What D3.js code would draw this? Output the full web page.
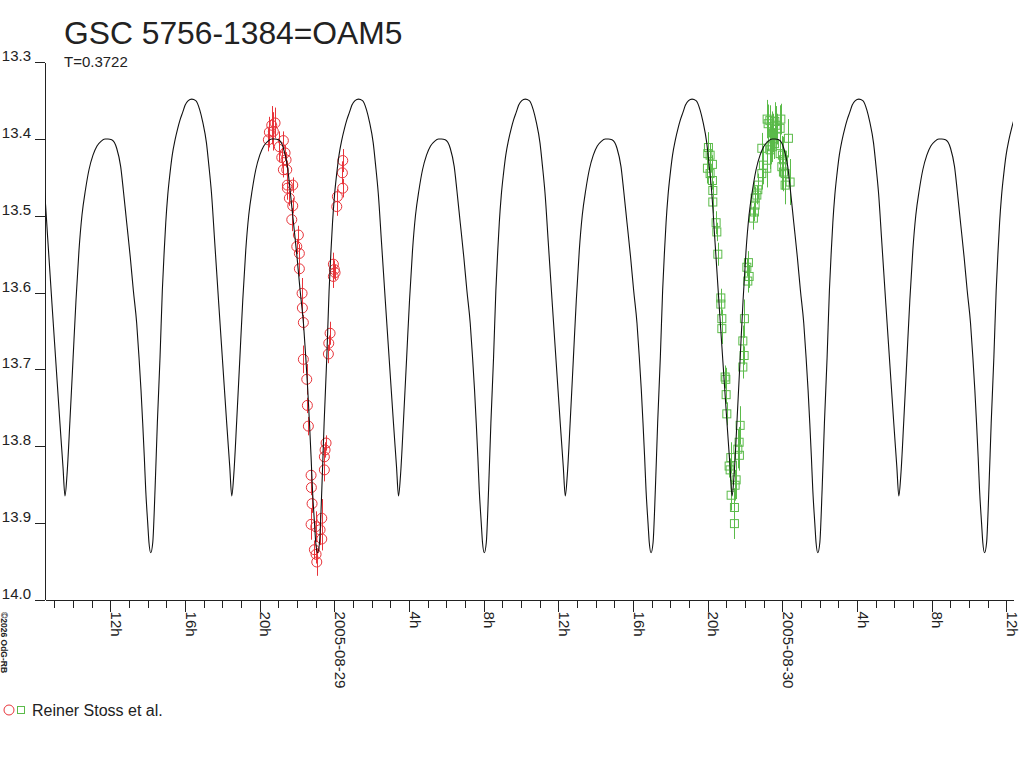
<!DOCTYPE html>
<html>
<head>
<meta charset="utf-8">
<script src="https://cdn.jsdelivr.net/npm/d3@7"></script>
<style>
  body { margin: 0; background: #fff; }
  svg { display: block; font-family: "Liberation Sans", Arial, sans-serif; }
  .axis path, .axis line { stroke: #222; shape-rendering: crispEdges; }
  .axis text { fill: #222; font-size: 15px; }
</style>
</head>
<body>
<div id="chart"></div>
<script>
// star + period shown on the chart
var starName = "GSC 5756-1384=OAM5";
var periodDays = 0.3722;
var observer = "Reiner Stoss et al.";
var yTicks = [13.3, 13.4, 13.5, 13.6, 13.7, 13.8, 13.9, 14.0];

// time in hours since 2005-08-28 00:00 UT
var xStartHours = 8.5, xEndHours = 60.35;

// model light curve: one period, hours after primary minimum
var epochHours = 14.164;
var profileHours = [0, 0.107, 0.230, 0.354, 0.498, 0.621, 0.723, 0.804, 0.911, 1.034, 1.152, 1.302, 1.446, 1.570, 1.714, 1.838, 2.009, 2.196,
  2.411, 2.625, 2.786, 2.984, 3.107, 3.252, 3.429, 3.643, 3.857, 4.071, 4.232, 4.339,
  4.446, 4.607, 4.768, 4.929, 5.089, 5.250, 5.437, 5.625, 5.839, 6.054, 6.268, 6.482, 6.643,
  6.841, 7.109, 7.323, 7.462, 7.645, 7.837, 8.000, 8.180, 8.303, 8.411, 8.502, 8.588, 8.663, 8.770, 8.839];
var profileMag = [13.939, 13.926, 13.857, 13.770, 13.684, 13.597, 13.545, 13.509, 13.473, 13.444, 13.421, 13.401, 13.386, 13.375, 13.365, 13.356, 13.350, 13.348,
  13.350, 13.362, 13.378, 13.405, 13.433, 13.470, 13.535, 13.615, 13.693, 13.771, 13.827, 13.865,
  13.838, 13.766, 13.688, 13.610, 13.545, 13.499, 13.466, 13.440, 13.421, 13.409, 13.403, 13.400, 13.400,
  13.401, 13.412, 13.436, 13.466, 13.509, 13.554, 13.597, 13.640, 13.684, 13.727, 13.770, 13.814, 13.857, 13.900, 13.926];

// first night (red circles)
var redHours = [20.646, 20.823, 20.518, 20.732, 20.464, 21.268, 21.054, 21.359, 21.182, 21.413, 21.268, 21.450, 21.482, 21.771, 21.482, 21.589,
  21.771, 21.718, 22.071, 21.986, 22.125, 22.125, 22.270, 22.286, 22.339, 22.339, 22.521, 22.554, 22.607, 22.752, 22.768, 22.805,
  22.752, 23.004, 23.325, 23.234, 23.325, 22.929, 23.020, 23.057, 23.555, 23.502, 23.464, 23.464, 23.679, 23.700, 23.770, 23.946,
  24.000, 23.946, 24.037, 24.129, 24.161, 24.450, 24.429, 24.450];
var redMag = [13.382, 13.379, 13.391, 13.390, 13.401, 13.402, 13.410, 13.418, 13.424, 13.427, 13.440, 13.440, 13.460, 13.460, 13.464, 13.477,
  13.487, 13.505, 13.525, 13.540, 13.549, 13.569, 13.601, 13.620, 13.639, 13.687, 13.713, 13.747, 13.774, 13.838, 13.854, 13.875,
  13.902, 13.905, 13.894, 13.909, 13.921, 13.935, 13.941, 13.951, 13.796, 13.805, 13.814, 13.831, 13.680, 13.666, 13.653, 13.563,
  13.570, 13.579, 13.574, 13.488, 13.475, 13.464, 13.444, 13.428];
var redErr = [0.025, 0.020, 0.020, 0.025, 0.015, 0.012, 0.020, 0.010, 0.012, 0.010, 0.010, 0.012, 0.015, 0.010, 0.015, 0.010,
  0.010, 0.015, 0.012, 0.010, 0.012, 0.010, 0.020, 0.010, 0.010, 0.018, 0.020, 0.010, 0.012, 0.012, 0.010, 0.012,
  0.020, 0.020, 0.025, 0.020, 0.015, 0.012, 0.012, 0.018, 0.010, 0.010, 0.012, 0.015, 0.012, 0.010, 0.015, 0.015,
  0.012, 0.015, 0.010, 0.012, 0.010, 0.012, 0.015, 0.015];

// second night (green squares)
var greenHours = [44.036, 44.003, 44.126, 44.250, 43.982, 44.126, 44.250, 44.271, 44.271, 44.448, 44.486, 44.539, 44.700, 44.700, 44.754, 44.754,
  44.930, 44.968, 44.984, 45.021, 45.236, 45.145, 45.198, 45.252, 45.429, 45.429, 45.520, 45.466, 45.696, 45.611, 45.680, 45.734,
  45.879, 45.948, 45.879, 45.964, 46.146, 46.216, 46.093, 46.179, 46.446, 46.500, 46.537, 46.537, 46.629, 46.682, 46.714, 46.896,
  46.982, 47.164, 46.896, 47.341, 47.464, 47.395, 47.571, 47.180, 47.234, 47.325, 47.593, 47.914, 47.877, 47.661, 47.432, 47.518,
  47.732, 48.321, 47.877, 48.000, 47.968, 48.054, 48.143, 48.411, 48.143, 48.054];
var greenMag = [13.411, 13.419, 13.421, 13.433, 13.438, 13.445, 13.454, 13.467, 13.482, 13.509, 13.521, 13.550, 13.607, 13.615, 13.634, 13.647,
  13.710, 13.713, 13.733, 13.758, 13.815, 13.826, 13.831, 13.864, 13.880, 13.901, 13.844, 13.851, 13.812, 13.804, 13.795, 13.773,
  13.697, 13.682, 13.663, 13.634, 13.585, 13.579, 13.567, 13.561, 13.503, 13.495, 13.486, 13.477, 13.473, 13.466, 13.460, 13.445,
  13.434, 13.438, 13.412, 13.414, 13.410, 13.408, 13.406, 13.374, 13.380, 13.376, 13.377, 13.374, 13.386, 13.382, 13.384, 13.392,
  13.387, 13.399, 13.419, 13.421, 13.436, 13.443, 13.445, 13.456, 13.460, 13.427];
var greenErr = [0.020, 0.015, 0.015, 0.012, 0.020, 0.015, 0.012, 0.012, 0.015, 0.015, 0.012, 0.015, 0.012, 0.015, 0.012, 0.020,
  0.015, 0.015, 0.012, 0.015, 0.020, 0.015, 0.015, 0.020, 0.025, 0.020, 0.025, 0.020, 0.020, 0.025, 0.020, 0.025,
  0.015, 0.012, 0.020, 0.025, 0.015, 0.015, 0.012, 0.015, 0.015, 0.012, 0.015, 0.015, 0.012, 0.012, 0.015, 0.020,
  0.025, 0.025, 0.020, 0.025, 0.020, 0.025, 0.020, 0.025, 0.025, 0.020, 0.025, 0.020, 0.030, 0.025, 0.020, 0.025,
  0.020, 0.025, 0.030, 0.025, 0.030, 0.025, 0.030, 0.030, 0.025, 0.030];

var RED = "#e8343a", GREEN = "#5bbb4a";

var margin = { top: 62.3, left: 45 },
    width = 1013 - margin.left,
    height = 599.6 - margin.top;

var baseMs = Date.UTC(2005, 7, 28, 0, 0);
var toDate = h => new Date(baseMs + h * 3600e3);

var x = d3.scaleUtc()
    .domain([toDate(xStartHours), toDate(xEndHours)])
    .range([0, width]);

var y = d3.scaleLinear()
    .domain([13.3, 14.0])
    .range([0, height]);

var svg = d3.select("#chart").append("svg")
    .attr("width", 1024)
    .attr("height", 768);

svg.append("text")
    .attr("x", 64).attr("y", 43.5)
    .attr("font-size", 31.8).attr("fill", "#222")
    .text(starName);
svg.append("text")
    .attr("x", 64).attr("y", 66.5)
    .attr("font-size", 15).attr("fill", "#222")
    .text("T=" + periodDays);

var g = svg.append("g")
    .attr("transform", "translate(" + margin.left + "," + margin.top + ")");

g.append("defs").append("clipPath").attr("id", "plotClip")
  .append("rect").attr("x", 0).attr("y", -margin.top).attr("width", width).attr("height", height + margin.top);

// y axis
var yAxis = g.append("g")
    .attr("class", "axis")
    .call(d3.axisLeft(y).tickValues(yTicks).tickSize(10).tickSizeOuter(0).tickPadding(4).tickFormat(d3.format(".1f")));
yAxis.selectAll("text").attr("dy", 0).attr("y", -1.5);

// x axis: hour ticks, then 4h ticks with labels
g.append("g")
    .attr("class", "axis")
    .attr("transform", "translate(0," + height + ")")
    .call(d3.axisBottom(x).ticks(d3.utcHour.every(1)).tickSize(8).tickSizeOuter(0).tickFormat(""));

var fmtDay = d3.utcFormat("%Y-%m-%d");
var xMajor = g.append("g")
    .attr("class", "axis")
    .attr("transform", "translate(0," + height + ")")
    .call(d3.axisBottom(x).ticks(d3.utcHour.every(4)).tickSize(12).tickSizeOuter(0)
      .tickFormat(d => d.getUTCHours() === 0 ? fmtDay(d) : d.getUTCHours() + "h"));
xMajor.select(".domain").remove();
xMajor.selectAll("text")
    .attr("transform", "rotate(90)")
    .attr("x", 12).attr("y", 0).attr("dy", 0)
    .style("text-anchor", "start");

// observations
var plot = g.append("g").attr("clip-path", "url(#plotClip)");

function drawSet(hours, mags, errs, color, symbol) {
  var pts = hours.map((h, i) => ({ t: toDate(h), m: mags[i], e: errs[i] }));
  var grp = plot.append("g");
  grp.selectAll(".err").data(pts).enter().append("line")
      .attr("x1", d => Math.round(x(d.t)) + 0.5).attr("x2", d => Math.round(x(d.t)) + 0.5)
      .attr("y1", d => y(d.m - d.e)).attr("y2", d => y(d.m + d.e))
      .attr("stroke", color).attr("stroke-width", 1);
  if (symbol === "circle") {
    grp.selectAll(".pt").data(pts).enter().append("circle")
        .attr("cx", d => x(d.t)).attr("cy", d => y(d.m)).attr("r", 5)
        .attr("fill", "none").attr("stroke", color).attr("stroke-width", 1);
  } else {
    grp.selectAll(".pt").data(pts).enter().append("rect")
        .attr("x", d => x(d.t) - 4).attr("y", d => y(d.m) - 4)
        .attr("width", 8).attr("height", 8)
        .attr("fill", "none").attr("stroke", color).attr("stroke-width", 1);
  }
}
drawSet(redHours, redMag, redErr, RED, "circle");
drawSet(greenHours, greenMag, greenErr, GREEN, "square");

// model curve, repeated every period
var periodHours = periodDays * 24;
var curvePts = [];
for (var n = -1; n <= 6; n++) {
  profileHours.forEach(function (ph, i) {
    var h = epochHours + n * periodHours + ph;
    if (h > xStartHours - 1 && h < xEndHours + 1) curvePts.push({ t: toDate(h), m: profileMag[i] });
  });
}
plot.append("path")
    .datum(curvePts)
    .attr("fill", "none")
    .attr("stroke", "#111")
    .attr("stroke-width", 1.1)
    .attr("d", d3.line().x(d => x(d.t)).y(d => y(d.m)).curve(d3.curveMonotoneX));

// legend
svg.append("circle").attr("cx", 9).attr("cy", 710).attr("r", 5)
    .attr("fill", "none").attr("stroke", RED);
svg.append("rect").attr("x", 17.5).attr("y", 706.5).attr("width", 7).attr("height", 7)
    .attr("fill", "none").attr("stroke", GREEN);
svg.append("text").attr("x", 32).attr("y", 715.5)
    .attr("font-size", 16).attr("fill", "#222")
    .text(observer);

// copyright, vertical
svg.append("text")
    .attr("transform", "translate(1,612) rotate(90)")
    .attr("font-size", 8.5).attr("font-weight", "bold").attr("fill", "#222")
    .text("©2026 OdG-RB");
</script>
</body>
</html>
